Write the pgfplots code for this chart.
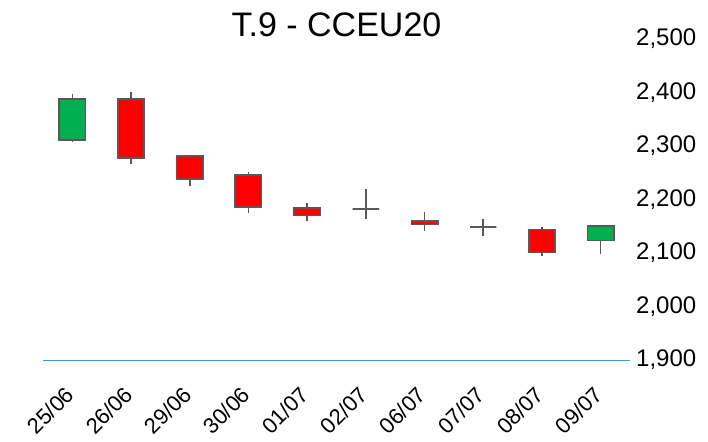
\documentclass[border=0pt]{standalone}
\usepackage{pgfplots}
\pgfplotsset{compat=1.18}
\usepackage{fontspec}
\setmainfont{Liberation Sans}
\definecolor{upgreen}{RGB}{0,176,80}
\definecolor{downred}{RGB}{255,0,0}
\definecolor{edgegray}{RGB}{89,89,89}
\definecolor{axisblue}{RGB}{0,176,240}
\begin{document}
\begin{tikzpicture}
\useasboundingbox (-43bp,-82bp) rectangle (665bp,360bp);
\begin{axis}[
  at={(0,0)}, anchor=south west,
  scale only axis, width=587bp, height=321bp,
  xmin=-0.5, xmax=9.5, ymin=1900, ymax=2500,
  separate axis lines,
  axis x line*=bottom, axis y line*=right,
  y axis line style={draw=none},
  x axis line style={draw=axisblue, line width=1bp},
  major tick length=0pt,
  xtick={0,...,9},
  xticklabels={25/06,26/06,29/06,30/06,01/07,02/07,06/07,07/07,08/07,09/07},
  ytick={1900,2000,...,2500},
  yticklabel pos=right,
  /pgf/number format/.cd, 1000 sep={,}, assume math mode=true, /pgfplots/.cd,
  yticklabel style={font=\fontsize{24bp}{24bp}\selectfont, anchor=west, inner sep=0pt, xshift=6bp},
  xticklabel style={font=\fontsize{22bp}{22bp}\selectfont, rotate=45, anchor=north east, inner sep=0pt, xshift=-23.4bp, yshift=-11.7bp},
  title={T.9 - CCEU20},
  title style={font=\fontsize{34bp}{34bp}\selectfont, at={(0.5,1)}, anchor=base, yshift=-3bp},
  clip=false,
  wick/.style={draw=edgegray, line width=1.6bp, mark=none},
  up/.style={fill=upgreen, draw=edgegray, line width=1.6bp, mark=none, line join=miter},
  down/.style={fill=downred, draw=edgegray, line width=1.6bp, mark=none, line join=miter},
]
% 25/06  O 2311 H 2397 L 2307 C 2388
\addplot[wick] coordinates {(0,2307) (0,2397)};
\addplot[up] coordinates {(-0.225,2311) (0.225,2311) (0.225,2388) (-0.225,2388)} -- cycle;
% 26/06  O 2388 H 2400 L 2266 C 2278
\addplot[wick] coordinates {(1,2266) (1,2400)};
\addplot[down] coordinates {(0.775,2388) (1.225,2388) (1.225,2278) (0.775,2278)} -- cycle;
% 29/06  O 2281 H 2281 L 2226 C 2238
\addplot[wick] coordinates {(2,2226) (2,2281)};
\addplot[down] coordinates {(1.775,2281) (2.225,2281) (2.225,2238) (1.775,2238)} -- cycle;
% 30/06  O 2246 H 2251 L 2174 C 2186
\addplot[wick] coordinates {(3,2174) (3,2251)};
\addplot[down] coordinates {(2.775,2246) (3.225,2246) (3.225,2186) (2.775,2186)} -- cycle;
% 01/07  O 2184 H 2193 L 2160 C 2170
\addplot[wick] coordinates {(4,2160) (4,2193)};
\addplot[down] coordinates {(3.775,2184) (4.225,2184) (4.225,2170) (3.775,2170)} -- cycle;
% 02/07  O 2182 H 2219 L 2164 C 2182
\addplot[wick] coordinates {(5,2164) (5,2219)};
\addplot[down] coordinates {(4.775,2182) (5.225,2182) (5.225,2182) (4.775,2182)} -- cycle;
% 06/07  O 2160 H 2176 L 2141 C 2153
\addplot[wick] coordinates {(6,2141) (6,2176)};
\addplot[down] coordinates {(5.775,2160) (6.225,2160) (6.225,2153) (5.775,2153)} -- cycle;
% 07/07  O 2149 H 2163 L 2131 C 2149
\addplot[wick] coordinates {(7,2131) (7,2163)};
\addplot[down] coordinates {(6.775,2149) (7.225,2149) (7.225,2149) (6.775,2149)} -- cycle;
% 08/07  O 2144 H 2149 L 2095 C 2101
\addplot[wick] coordinates {(8,2095) (8,2149)};
\addplot[down] coordinates {(7.775,2144) (8.225,2144) (8.225,2101) (7.775,2101)} -- cycle;
% 09/07  O 2123 H 2150 L 2098 C 2150
\addplot[wick] coordinates {(9,2098) (9,2150)};
\addplot[up] coordinates {(8.775,2123) (9.225,2123) (9.225,2150) (8.775,2150)} -- cycle;
\end{axis}
\end{tikzpicture}
\end{document}
